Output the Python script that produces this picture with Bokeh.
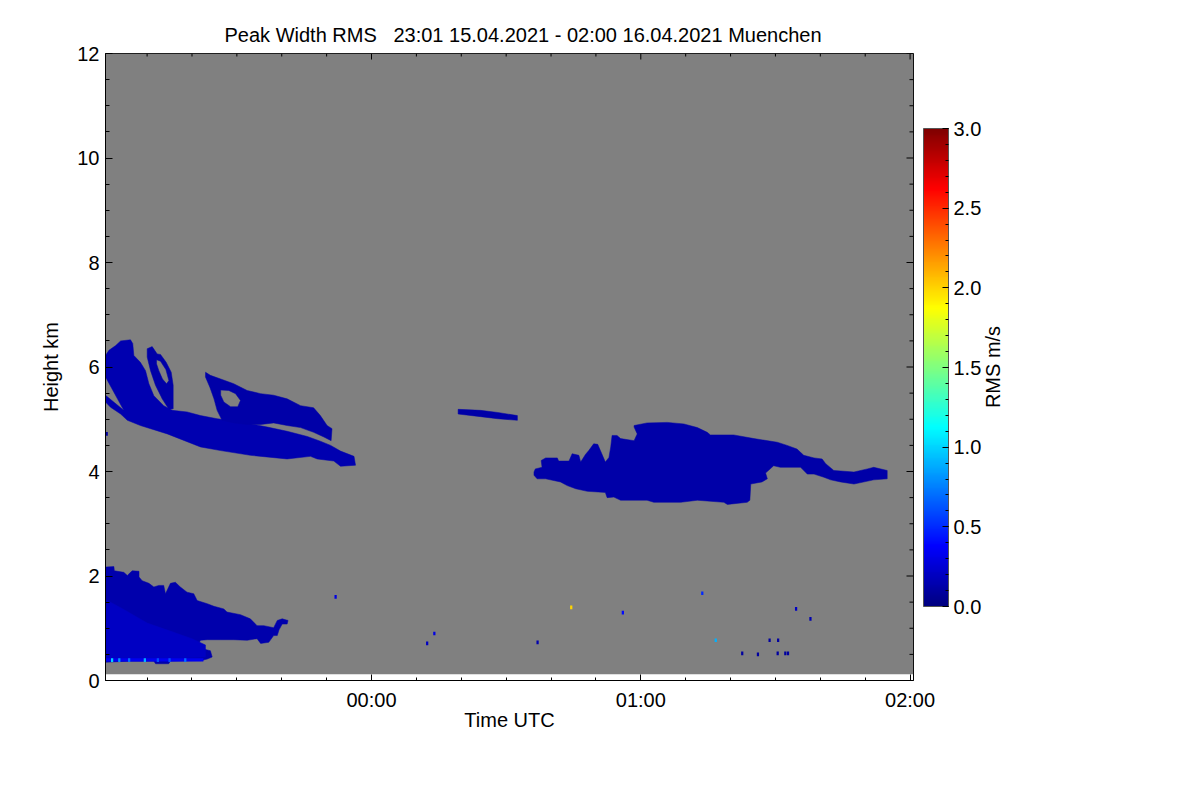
import math
from bokeh.plotting import figure
from bokeh.layouts import row
from bokeh.models import (Range1d, LinearAxis, FixedTicker, LinearColorMapper,
                          ColorBar, ColumnDataSource, PrintfTickFormatter, SingleIntervalTicker)
from bokeh.core.properties import value
from bokeh.embed import file_html
from bokeh.resources import INLINE

FONT = "Liberation Sans"
FS = "20px"

TITLE = "Peak Width RMS \u00a0 23:01 15.04.2021 - 02:00 16.04.2021 Muenchen"
X_LABEL = "Time UTC"
Y_LABEL = "Height km"
CB_LABEL = "RMS m/s"

# time axis in minutes relative to 00:00 UTC, height in km
T_START, T_END = -59.27, 120.76
H_MIN, H_MAX = 0.0, 12.0
GRID_T0, GRID_T1 = -59.27, 120.7      # measurement grid coverage
GRID_H0, GRID_H1 = 0.12, 12.0
X_TICKS = [0, 60, 120]
X_TICK_LABELS = ["00:00", "01:00", "02:00"]
X_MINOR = [-50, -40, -30, -20, -10, 10, 20, 30, 40, 50, 70, 80, 90, 100, 110]
Y_TICKS = [0, 2, 4, 6, 8, 10, 12]
Y_MINOR = [0.5, 1, 1.5, 2.5, 3, 3.5, 4.5, 5, 5.5, 6.5, 7, 7.5, 8.5, 9, 9.5, 10.5, 11, 11.5]
RMS_LOW, RMS_HIGH = 0.0, 3.0
NODATA_COLOR = "#808080"

# ---- cloud echoes: outlines (minutes, km) and RMS value (m/s) ----
UPPER_MAIN_T = [-59.27, -58.5, -57.0, -55.9, -53.7, -53.2, -52.95, -51.5, -50.35, -49.6, -48.5, -46.3,
                -44.4, -41.1, -38.1, -34.4, -29.2, -23.2, -18.8, -14.3, -11.4, -9.1, -6.9, -3.9,
                -3.56, -6.9, -8.4, -12.1, -13.6, -18.8, -27.0, -33.6, -38.1, -45.5, -51.5, -54.4,
                -55.9, -58.15, -59.27, -59.27, -55.2, -59.27]
UPPER_MAIN_H = [6.22, 6.32, 6.41, 6.50, 6.52, 6.45, 6.22, 6.09, 5.93, 5.68, 5.45, 5.26,
                5.17, 5.14, 5.07, 5.01, 4.95, 4.85, 4.77, 4.67, 4.58, 4.50, 4.39, 4.29,
                4.12, 4.10, 4.20, 4.24, 4.29, 4.24, 4.31, 4.40, 4.47, 4.72, 4.88, 4.98,
                5.10, 5.23, 5.33, 5.46, 5.17, 5.81]
UPPER_MAIN_V = 0.15

LOOP_T = [-49.98, -48.87, -47.75, -47.01, -45.75, -44.63, -44.19, -44.19, -45.15, -46.64, -48.13, -49.24, -49.98]
LOOP_H = [6.35, 6.39, 6.25, 6.24, 6.09, 5.90, 5.65, 5.20, 5.19, 5.39, 5.65, 5.93, 6.19]
LOOP_HOLE_T = [-47.90, -47.01, -45.82, -45.15, -45.67, -46.57, -47.38, -47.90]
LOOP_HOLE_H = [6.14, 6.11, 5.95, 5.74, 5.68, 5.77, 5.93, 6.06]
LOOP_V = 0.12

UPPER_RIGHT_T = [-36.98, -35.9, -33.6, -30.7, -27.7, -24.7, -21.8, -18.8, -15.8, -12.9, -11.4, -9.9, -8.8,
                 -9.0, -10.6, -12.9, -15.8, -18.8, -21.8, -24.7, -27.7, -30.7, -33.3, -34.4, -35.1, -36.0, -37.0]
UPPER_RIGHT_H = [5.90, 5.84, 5.77, 5.68, 5.55, 5.49, 5.46, 5.39, 5.26, 5.22, 5.07, 4.88, 4.82,
                 4.59, 4.66, 4.75, 4.84, 4.88, 4.93, 4.90, 4.90, 4.93, 4.98, 5.17, 5.39, 5.61, 5.81]
UPPER_RIGHT_HOLE_T = [-33.6, -31.8, -30.3, -29.2, -29.8, -31.4, -32.9, -33.6]
UPPER_RIGHT_HOLE_H = [5.56, 5.55, 5.49, 5.36, 5.24, 5.24, 5.33, 5.46]
UPPER_RIGHT_V = 0.12

STREAK_T = [19.3, 24.3, 28.1, 32.5, 32.5, 28.1, 24.3, 19.3]
STREAK_H = [5.19, 5.17, 5.13, 5.07, 4.98, 5.01, 5.05, 5.10]
STREAK_V = 0.12

MID_T = [36.2, 36.5, 38.0, 37.8, 38.8, 41.4, 41.7, 44.0, 44.7, 46.2, 46.6, 47.7, 48.4, 49.5, 50.4, 51.0,
         52.1, 52.9, 53.3, 53.6, 54.7, 55.5, 58.5, 59.2, 58.5, 58.5, 61.4, 65.9, 69.6, 72.6, 74.8, 75.5,
         80.7, 85.2, 90.4, 92.6, 94.8, 96.3, 98.6, 100.4, 101.2, 103.0, 107.5, 110.5, 111.9, 114.9,
         114.9, 111.9, 107.5, 104.5, 102.3, 100.8, 98.6, 97.1, 95.6, 91.1, 89.6, 87.8, 88.2, 87.0,
         84.5, 84.3, 83.7, 79.3, 78.5, 72.6, 68.9, 62.9, 61.4, 55.5, 54.0, 52.5, 52.1, 48.1, 45.5,
         43.6, 42.1, 38.8, 36.9, 36.2]
MID_H = [3.99, 4.05, 4.08, 4.21, 4.26, 4.26, 4.20, 4.20, 4.34, 4.31, 4.18, 4.33, 4.40, 4.53, 4.52, 4.40,
         4.18, 4.27, 4.47, 4.69, 4.69, 4.63, 4.59, 4.72, 4.85, 4.88, 4.93, 4.94, 4.91, 4.84, 4.75, 4.70,
         4.70, 4.63, 4.56, 4.50, 4.43, 4.31, 4.26, 4.24, 4.15, 4.02, 3.99, 4.05, 4.08, 4.02,
         3.86, 3.84, 3.76, 3.80, 3.84, 3.89, 3.95, 3.95, 4.08, 4.08, 4.11, 3.97, 3.86, 3.80,
         3.76, 3.45, 3.41, 3.37, 3.41, 3.45, 3.41, 3.41, 3.45, 3.45, 3.51, 3.50, 3.60, 3.62, 3.67,
         3.73, 3.80, 3.86, 3.86, 3.93]
MID_V = 0.12

LOW_T = [-59.27, -57.4, -57.3, -55.2, -54.4, -53.7, -53.3, -51.8, -51.8, -51.1, -49.6, -48.5, -47.4, -46.3,
         -45.9, -44.8, -43.7, -42.6, -41.1, -39.6, -38.85, -36.6, -35.1, -32.9, -32.2, -29.2, -27.0, -25.5,
         -24.0, -21.8, -21.0, -19.9, -18.6, -18.8, -19.9, -20.6, -21.0, -21.8, -22.9, -24.7, -25.5, -27.7,
         -30.7, -33.7, -36.6, -38.1, -38.85, -37.7, -35.9, -35.5, -36.6, -38.1, -44.8, -45.2, -48.1, -48.5,
         -53.7, -59.27]
LOW_H = [2.17, 2.18, 2.10, 2.07, 2.01, 2.07, 2.10, 2.09, 1.98, 1.91, 1.86, 1.79, 1.82, 1.82,
         1.66, 1.86, 1.88, 1.79, 1.69, 1.66, 1.53, 1.47, 1.42, 1.37, 1.31, 1.26, 1.18, 1.05,
         1.05, 1.01, 1.15, 1.18, 1.15, 1.08, 1.08, 0.97, 0.86, 0.86, 0.73, 0.71, 0.80, 0.77,
         0.78, 0.78, 0.78, 0.77, 0.65, 0.61, 0.57, 0.45, 0.41, 0.38, 0.37, 0.32, 0.32, 0.37,
         0.37, 0.35]
LOW_V = 0.14

LOW_CORE_T = [-59.27, -59.27, -55.0, -50.0, -45.0, -40.0, -37.0, -37.0, -45.0, -52.0]
LOW_CORE_H = [0.42, 1.55, 1.35, 1.10, 0.95, 0.80, 0.68, 0.45, 0.42, 0.42]
LOW_CORE_V = 0.20

LOW_BASE_T = [-59.27, -37.5, -37.5, -59.27]
LOW_BASE_H = [0.37, 0.37, 0.42, 0.42]
LOW_BASE_V = 0.33

# isolated echoes
SPECK_T = [-59.0, -8.0, 12.4, 14.0, 37.0, 44.5, 56.0, 73.7, 76.7, 82.6, 86.1, 88.7, 90.6, 90.5, 92.2, 92.8,
           94.6, 97.8, -57.8, -54.0, -50.5, -45.0, -41.5, -56.2, -47.6]
SPECK_H = [4.72, 1.60, 0.71, 0.90, 0.73, 1.40, 1.30, 1.67, 0.77, 0.52, 0.50, 0.77, 0.77, 0.52, 0.52, 0.52,
           1.37, 1.18, 0.39, 0.39, 0.39, 0.39, 0.39, 0.39, 0.39]
SPECK_V = [0.1, 0.3, 0.2, 0.3, 0.15, 2.0, 0.4, 0.5, 0.9, 0.1, 0.1, 0.1, 0.1, 0.1, 0.1, 0.1,
           0.2, 0.15, 1.0, 0.7, 0.9, 0.6, 0.7, 0.8, 0.6]


def jet(n=256):
    cols = []
    for i in range(n):
        x = i / (n - 1)
        r = min(max(1.5 - abs(4 * x - 3), 0), 1)
        g = min(max(1.5 - abs(4 * x - 2), 0), 1)
        b = min(max(1.5 - abs(4 * x - 1), 0), 1)
        cols.append("#%02x%02x%02x" % (int(r * 255 + .5), int(g * 255 + .5), int(b * 255 + .5)))
    return cols


FRAME_W, FRAME_H = 808, 627
LEFT, TOP, RIGHT, BOTTOM = 105, 53, 69, 104

mapper = LinearColorMapper(palette=jet(), low=RMS_LOW, high=RMS_HIGH)

p = figure(frame_width=FRAME_W, frame_height=FRAME_H,
           x_range=Range1d(T_START, T_END), y_range=Range1d(H_MIN, H_MAX),
           output_backend="svg", toolbar_location=None,
           x_axis_type=None, y_axis_type=None,
           min_border_left=LEFT, min_border_right=RIGHT, min_border_top=TOP, min_border_bottom=BOTTOM,
           background_fill_color="white", border_fill_color="white", title=TITLE)
p.outline_line_color = "black"
p.outline_line_width = 1

p.title.text_font = FONT
p.title.text_font_size = FS
p.title.text_font_style = "normal"
p.title.text_color = "black"
p.title.align = "left"
p.title.offset = 119
p.title.standoff = 16


def style(ax):
    ax.axis_line_color = "black"
    ax.major_tick_line_color = "black"
    ax.minor_tick_line_color = "black"
    ax.major_tick_out = 0
    ax.minor_tick_out = 0
    ax.major_label_text_font = FONT
    ax.major_label_text_font_size = FS
    ax.major_label_text_color = "black"
    ax.axis_label_text_font = FONT
    ax.axis_label_text_font_size = FS
    ax.axis_label_text_font_style = "normal"
    ax.axis_label_text_color = "black"


xb = LinearAxis(ticker=FixedTicker(ticks=X_TICKS, minor_ticks=X_MINOR), axis_label=X_LABEL,
                major_label_overrides=dict(zip(X_TICKS, X_TICK_LABELS)))
style(xb)
xb.major_tick_in = 6
xb.minor_tick_in = 3
xb.major_label_standoff = 8
xb.axis_label_standoff = -5
p.add_layout(xb, "below")

yl = LinearAxis(ticker=FixedTicker(ticks=Y_TICKS, minor_ticks=Y_MINOR), axis_label=Y_LABEL)
style(yl)
yl.major_tick_in = 7
yl.minor_tick_in = 4
yl.major_label_standoff = 6
yl.axis_label_standoff = 12
p.add_layout(yl, "left")

# no-data background of the measurement grid
p.quad(left=[GRID_T0], right=[GRID_T1], bottom=[GRID_H0], top=[GRID_H1],
       fill_color=NODATA_COLOR, line_color=None)

# cloud echoes
shapes = [
    (UPPER_MAIN_T, UPPER_MAIN_H, [], UPPER_MAIN_V),
    (LOOP_T, LOOP_H, [(LOOP_HOLE_T, LOOP_HOLE_H)], LOOP_V),
    (UPPER_RIGHT_T, UPPER_RIGHT_H, [(UPPER_RIGHT_HOLE_T, UPPER_RIGHT_HOLE_H)], UPPER_RIGHT_V),
    (STREAK_T, STREAK_H, [], STREAK_V),
    (MID_T, MID_H, [], MID_V),
    (LOW_T, LOW_H, [], LOW_V),
    (LOW_CORE_T, LOW_CORE_H, [], LOW_CORE_V),
    (LOW_BASE_T, LOW_BASE_H, [], LOW_BASE_V),
]
xs, ys, vs = [], [], []
for t, h, holes, v in shapes:
    xs.append([[list(t)] + [list(ht) for ht, hh in holes]])
    ys.append([[list(h)] + [list(hh) for ht, hh in holes]])
    vs.append(v)
src = ColumnDataSource(dict(xs=xs, ys=ys, v=vs))
p.multi_polygons(xs="xs", ys="ys", source=src,
                 fill_color={"field": "v", "transform": mapper},
                 line_color={"field": "v", "transform": mapper}, line_width=0.5)

specks = ColumnDataSource(dict(t=SPECK_T, h=SPECK_H, v=SPECK_V))
p.rect(x="t", y="h", width=0.5, height=0.07, source=specks,
       fill_color={"field": "v", "transform": mapper}, line_color=None)

# inward ticks on the top and right edges of the box (same tick values as the axes)
xpx = FRAME_W / (T_END - T_START)
ypx = FRAME_H / (H_MAX - H_MIN)
top_t = X_TICKS + X_MINOR
top_len = [6 / ypx] * len(X_TICKS) + [3 / ypx] * len(X_MINOR)
p.segment(x0=top_t, y0=[H_MAX] * len(top_t), x1=top_t, y1=[H_MAX - l for l in top_len],
          line_color="black", line_width=1)
right_h = Y_TICKS + Y_MINOR
right_len = [7 / xpx] * len(Y_TICKS) + [4 / xpx] * len(Y_MINOR)
p.segment(x0=[T_END] * len(right_h), y0=right_h, x1=[T_END - l for l in right_len], y1=right_h,
          line_color="black", line_width=1)

# colour bar
cb = ColorBar(color_mapper=mapper, location=(818, 74), width=25, height=478,
              padding=0, margin=0,
              ticker=SingleIntervalTicker(interval=0.5, num_minor_ticks=5),
              formatter=PrintfTickFormatter(format="%.1f"),
              major_label_text_font=FONT, major_label_text_font_size=FS,
              major_label_text_color="black", label_standoff=5,
              major_tick_in=6, major_tick_line_color="black",
              minor_tick_in=3, minor_tick_line_color="black",
              bar_line_color="#555555", bar_line_width=1,
              background_fill_alpha=0, border_line_color=None)
p.add_layout(cb, "center")

# colour-bar title (rotated, reading upwards) in a narrow companion panel
total_w = 1184
lab_w = 24
q = figure(frame_width=lab_w, frame_height=FRAME_H,
           x_range=Range1d(0, 1), y_range=Range1d(H_MIN, H_MAX),
           output_backend="svg", toolbar_location=None,
           x_axis_type=None, y_axis_type=None,
           min_border_left=0, min_border_right=total_w - (LEFT + FRAME_W + RIGHT) - lab_w,
           min_border_top=TOP, min_border_bottom=BOTTOM,
           background_fill_color="white", border_fill_color="white")
q.outline_line_color = None
q.text(x=[0.42], y=[(H_MIN + H_MAX) / 2], text=[CB_LABEL], angle=math.pi / 2,
       text_align="center", text_baseline="alphabetic",
       text_font=value(FONT), text_font_size=value(FS), text_color="black")

layout = row(p, q)
open("out.html", "w").write(file_html(layout, INLINE))
